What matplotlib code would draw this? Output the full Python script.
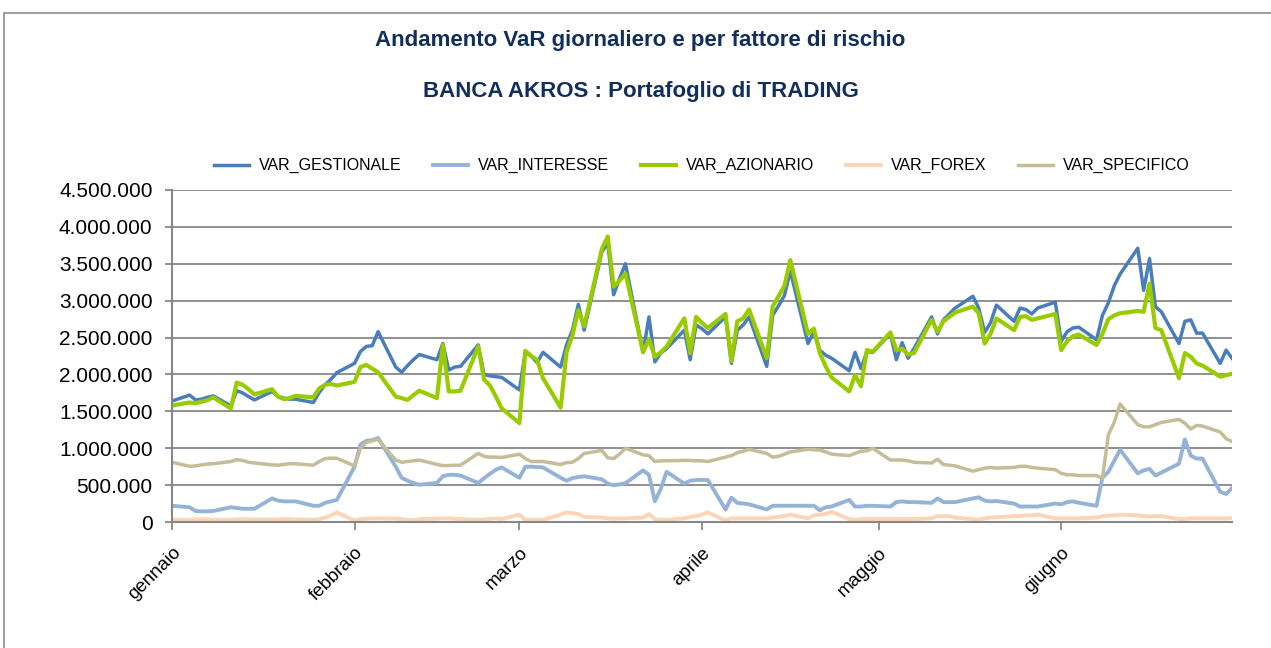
import numpy as np
import pandas as pd
import matplotlib
matplotlib.use("Agg")
import matplotlib.pyplot as plt
from matplotlib.ticker import FuncFormatter, MultipleLocator
from matplotlib.patches import Rectangle

plt.rcParams['font.family'] = ['Liberation Sans', 'DejaVu Sans']

# trading days, first half of the year
dates = pd.bdate_range('2010-01-01', '2010-06-30')

# daily VaR in millions of euro, one row per month
gestionale = [
    1.64, 1.72, 1.655, 1.665, 1.69, 1.71, 1.575, 1.78, 1.75, 1.70, 1.655, 1.77, 1.70, 1.68, 1.665, 1.665, 1.62, 1.755, 1.86, 1.935, 2.025,
    2.15, 2.31, 2.38, 2.39, 2.58, 2.10, 2.03, 2.12, 2.20, 2.27, 2.20, 2.42, 2.06, 2.10, 2.11, 2.40, 2.00, 1.98, 1.97, 1.96,
    1.79, 2.30, 2.25, 2.16, 2.30, 2.10, 2.40, 2.60, 2.95, 2.60, 3.66, 3.78, 3.08, 3.30, 3.50, 2.30, 2.78, 2.17, 2.29, 2.35, 2.60, 2.20, 2.67,
    2.62, 2.55, 2.78, 2.15, 2.60, 2.67, 2.78, 2.11, 2.80, 2.93, 3.07, 3.40, 2.42, 2.58, 2.33, 2.26, 2.22, 2.05, 2.30, 2.08, 2.31, 2.30,
    2.55, 2.20, 2.43, 2.22, 2.35, 2.78, 2.55, 2.74, 2.82, 2.90, 3.06, 2.90, 2.57, 2.70, 2.94, 2.72, 2.90, 2.88, 2.82, 2.90, 2.98,
    2.45, 2.58, 2.63, 2.64, 2.47, 2.80, 2.97, 3.20, 3.36, 3.71, 3.14, 3.57, 2.92, 2.85, 2.42, 2.72, 2.74, 2.56, 2.56, 2.15, 2.33, 2.22,
]
interesse = [
    0.22, 0.20, 0.15, 0.145, 0.145, 0.15, 0.20, 0.19, 0.18, 0.18, 0.18, 0.32, 0.29, 0.28, 0.28, 0.28, 0.22, 0.22, 0.26, 0.28, 0.30,
    0.75, 1.05, 1.10, 1.11, 1.14, 0.75, 0.60, 0.56, 0.53, 0.505, 0.53, 0.62, 0.64, 0.64, 0.63, 0.53, 0.595, 0.654, 0.71, 0.74,
    0.60, 0.75, 0.75, 0.745, 0.74, 0.60, 0.56, 0.595, 0.61, 0.62, 0.58, 0.52, 0.50, 0.51, 0.525, 0.70, 0.64, 0.28, 0.45, 0.68, 0.52, 0.56, 0.57,
    0.57, 0.57, 0.17, 0.33, 0.26, 0.25, 0.24, 0.17, 0.22, 0.22, 0.22, 0.22, 0.22, 0.22, 0.16, 0.20, 0.21, 0.30, 0.21, 0.21, 0.22, 0.22,
    0.21, 0.27, 0.28, 0.27, 0.27, 0.26, 0.32, 0.27, 0.27, 0.27, 0.32, 0.335, 0.29, 0.28, 0.285, 0.25, 0.21, 0.21, 0.21, 0.21, 0.25,
    0.24, 0.27, 0.28, 0.26, 0.22, 0.60, 0.68, 0.83, 0.98, 0.66, 0.70, 0.72, 0.63, 0.67, 0.79, 1.12, 0.90, 0.86, 0.86, 0.41, 0.38, 0.46,
]
azionario = [
    1.58, 1.62, 1.61, 1.63, 1.65, 1.69, 1.54, 1.89, 1.86, 1.80, 1.73, 1.80, 1.70, 1.665, 1.68, 1.71, 1.69, 1.81, 1.86, 1.87, 1.85,
    1.90, 2.10, 2.13, 2.08, 2.03, 1.70, 1.68, 1.655, 1.72, 1.78, 1.68, 2.40, 1.77, 1.77, 1.78, 2.38, 1.93, 1.85, 1.70, 1.54,
    1.34, 2.32, 2.25, 2.20, 1.95, 1.55, 2.30, 2.53, 2.87, 2.65, 3.70, 3.87, 3.19, 3.27, 3.37, 2.30, 2.48, 2.24, 2.30, 2.38, 2.76, 2.29, 2.78,
    2.70, 2.63, 2.82, 2.18, 2.72, 2.76, 2.88, 2.22, 2.92, 3.06, 3.20, 3.55, 2.55, 2.62, 2.29, 2.11, 1.96, 1.77, 1.99, 1.84, 2.33, 2.31,
    2.57, 2.33, 2.35, 2.27, 2.29, 2.74, 2.58, 2.72, 2.78, 2.84, 2.92, 2.83, 2.42, 2.55, 2.76, 2.60, 2.78, 2.79, 2.74, 2.76, 2.82,
    2.33, 2.45, 2.52, 2.54, 2.40, 2.55, 2.75, 2.80, 2.83, 2.86, 2.85, 3.23, 2.63, 2.60, 1.95, 2.29, 2.24, 2.15, 2.12, 1.97, 1.99, 2.01,
]
forex = [
    0.03, 0.03, 0.035, 0.035, 0.035, 0.03, 0.03, 0.035, 0.04, 0.035, 0.035, 0.035, 0.035, 0.04, 0.04, 0.035, 0.03, 0.04, 0.06, 0.09, 0.13,
    0.02, 0.04, 0.045, 0.05, 0.05, 0.045, 0.04, 0.03, 0.025, 0.04, 0.045, 0.05, 0.05, 0.045, 0.04, 0.03, 0.035, 0.045, 0.05, 0.04,
    0.10, 0.03, 0.03, 0.03, 0.03, 0.10, 0.13, 0.12, 0.11, 0.07, 0.06, 0.05, 0.045, 0.05, 0.05, 0.06, 0.11, 0.04, 0.03, 0.03, 0.05, 0.07, 0.08,
    0.10, 0.13, 0.02, 0.05, 0.05, 0.05, 0.05, 0.05, 0.06, 0.07, 0.08, 0.10, 0.05, 0.09, 0.10, 0.11, 0.14, 0.04, 0.03, 0.04, 0.04, 0.04,
    0.04, 0.04, 0.04, 0.04, 0.04, 0.05, 0.08, 0.08, 0.08, 0.06, 0.04, 0.03, 0.05, 0.06, 0.065, 0.08, 0.08, 0.09, 0.09, 0.10, 0.05,
    0.05, 0.05, 0.05, 0.05, 0.06, 0.08, 0.085, 0.09, 0.10, 0.09, 0.08, 0.075, 0.08, 0.08, 0.04, 0.04, 0.05, 0.05, 0.05, 0.05, 0.05, 0.055,
]
specifico = [
    0.81, 0.755, 0.76, 0.775, 0.785, 0.79, 0.82, 0.845, 0.835, 0.81, 0.80, 0.775, 0.77, 0.78, 0.79, 0.79, 0.77, 0.82, 0.86, 0.865, 0.865,
    0.76, 1.00, 1.08, 1.10, 1.12, 0.84, 0.81, 0.82, 0.83, 0.84, 0.78, 0.765, 0.765, 0.77, 0.77, 0.93, 0.89, 0.88, 0.88, 0.875,
    0.92, 0.86, 0.82, 0.82, 0.82, 0.78, 0.805, 0.81, 0.86, 0.93, 0.97, 0.87, 0.86, 0.92, 1.00, 0.91, 0.90, 0.82, 0.83, 0.83, 0.835, 0.835, 0.83,
    0.83, 0.82, 0.88, 0.90, 0.94, 0.96, 0.985, 0.93, 0.88, 0.89, 0.92, 0.95, 0.985, 0.98, 0.975, 0.95, 0.92, 0.90, 0.93, 0.96, 0.965, 1.00,
    0.84, 0.84, 0.84, 0.83, 0.81, 0.80, 0.85, 0.78, 0.77, 0.76, 0.69, 0.71, 0.73, 0.74, 0.73, 0.74, 0.755, 0.755, 0.74, 0.73, 0.71,
    0.66, 0.64, 0.64, 0.63, 0.63, 0.59, 1.18, 1.35, 1.60, 1.32, 1.29, 1.29, 1.32, 1.35, 1.39, 1.34, 1.26, 1.31, 1.30, 1.22, 1.13, 1.09,
]

series = [
    ("VAR_GESTIONALE", gestionale, "#4A7EBB", 2.5),
    ("VAR_INTERESSE", interesse, "#95B3D7", 2.8),
    ("VAR_AZIONARIO", azionario, "#99CC00", 3.0),
    ("VAR_FOREX", forex, "#FCD5B5", 2.8),
    ("VAR_SPECIFICO", specifico, "#C4BD97", 2.5),
]
mesi = ["gennaio", "febbraio", "marzo", "aprile", "maggio", "giugno"]

fig = plt.figure(figsize=(12.71, 6.48), dpi=100)
ax = fig.add_axes([0.1353, 0.1944, 0.834, 0.5124])

for name, vals, col, lw in series:
    ax.plot(dates, np.array(vals) * 1e6, color=col, lw=lw, label=name, solid_joinstyle='round')

grid_col = "#878787"
ax.set_ylim(0, 4.5e6)
ax.yaxis.set_major_locator(MultipleLocator(5e5))
ax.yaxis.set_major_formatter(FuncFormatter(lambda v, p: f"{int(round(v)):,}".replace(",", ".")))
ax.grid(axis='y', color=grid_col, lw=1.3)
ax.set_axisbelow(True)

month_starts = pd.date_range('2010-01-01', periods=6, freq='MS')
ax.set_xlim(dates[0], pd.Timestamp('2010-06-30'))
ax.set_xticks(month_starts)
ax.set_xticklabels(mesi, rotation=45, ha='right', va='top', rotation_mode='anchor', fontsize=13.5)

for s in ['top', 'right']:
    ax.spines[s].set_visible(False)
for s in ['left', 'bottom']:
    ax.spines[s].set_color(grid_col)
    ax.spines[s].set_linewidth(1.5)
ax.tick_params(axis='y', labelsize=15, length=5, color=grid_col, width=1.3, pad=9)
ax.tick_params(axis='x', length=6, color=grid_col, width=1.3, pad=10)

title_col = "#112F5A"
fig.text(0.504, 0.938, "Andamento VaR giornaliero e per fattore di rischio",
         ha='center', va='center', fontsize=16, fontweight='bold', color=title_col)
fig.text(0.504, 0.859, "BANCA AKROS : Portafoglio di TRADING",
         ha='center', va='center', fontsize=16, fontweight='bold', color=title_col)

ax.legend(loc='center', bbox_to_anchor=(0.552, 0.744), bbox_transform=fig.transFigure,
          ncol=5, frameon=False, fontsize=11.5, handlelength=2.2, handletextpad=0.6,
          columnspacing=2.0)

# outer chart border
fig.patches.append(Rectangle((0.0031, -0.05), 1.1, 1.03, transform=fig.transFigure,
                             fill=False, edgecolor="#8c8c8c", lw=1.2))

fig.savefig("out.png", dpi=100)
